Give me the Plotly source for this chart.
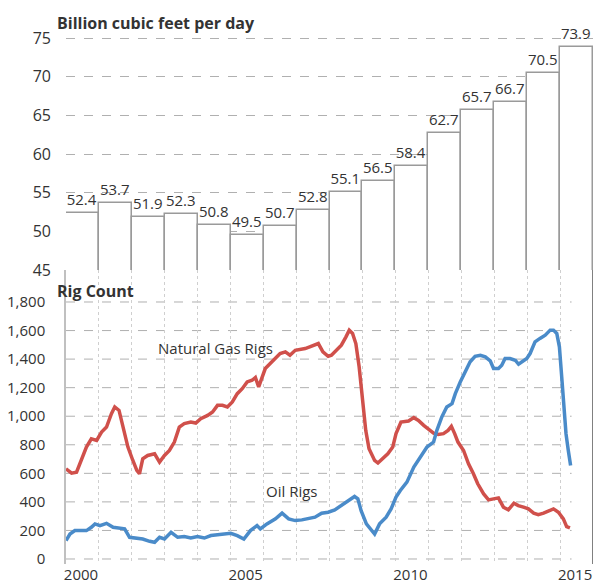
import plotly.graph_objects as go

# ---------------- data ----------------
years = list(range(2000, 2016))
gas_production = [52.4, 53.7, 51.9, 52.3, 50.8, 49.5, 50.7, 52.8, 55.1, 56.5,
                  58.4, 62.7, 65.7, 66.7, 70.5, 73.9]

gas_rig_t = [2000.0, 2000.17, 2000.32, 2000.47, 2000.62, 2000.77, 2000.93, 2001.08,
             2001.23, 2001.38, 2001.48, 2001.61, 2001.73, 2001.88, 2002.03, 2002.15,
             2002.23, 2002.33, 2002.48, 2002.69, 2002.84, 2002.99, 2003.14, 2003.29,
             2003.44, 2003.59, 2003.79, 2003.94, 2004.09, 2004.30, 2004.45, 2004.60,
             2004.75, 2004.90, 2005.05, 2005.2, 2005.35, 2005.5, 2005.65, 2005.75,
             2005.85, 2005.95, 2006.05, 2006.2, 2006.36, 2006.5, 2006.66, 2006.8,
             2006.96, 2007.1, 2007.26, 2007.4, 2007.56, 2007.66, 2007.8, 2007.96,
             2008.06, 2008.2, 2008.36, 2008.5, 2008.6, 2008.7, 2008.8, 2008.9,
             2009.0, 2009.1, 2009.2, 2009.37, 2009.47, 2009.62, 2009.77, 2009.92,
             2010.02, 2010.17, 2010.4, 2010.56, 2010.7, 2010.86, 2011.0, 2011.16,
             2011.3, 2011.46, 2011.6, 2011.7, 2011.8, 2011.9, 2012.07, 2012.22,
             2012.37, 2012.5, 2012.68, 2012.83, 2012.98, 2013.13, 2013.28, 2013.43,
             2013.6, 2013.73, 2013.89, 2014.04, 2014.2, 2014.34, 2014.5, 2014.65,
             2014.8, 2014.95, 2015.1, 2015.2, 2015.3]
gas_rigs = [632, 601, 608, 690, 784, 842, 831, 889,
            924, 1018, 1065, 1041, 924, 784, 690, 620,
            597, 702, 725, 737, 679, 725, 760, 819,
            924, 948, 959, 952, 983, 1006, 1030, 1076,
            1076, 1065, 1100, 1158, 1193, 1240, 1252, 1271,
            1205, 1275, 1334, 1369, 1404, 1439, 1451, 1427,
            1462, 1467, 1474, 1486, 1498, 1509, 1451, 1420,
            1427, 1462, 1498, 1556, 1603, 1580, 1509, 1346,
            1112, 901, 772, 690, 672, 702, 737, 784,
            878, 959, 966, 990, 971, 936, 913, 882,
            873, 878, 901, 929, 878, 819, 760, 667,
            597, 527, 456, 414, 421, 428, 363, 344,
            391, 374, 363, 351, 321, 311, 321, 335,
            351, 328, 281, 227, 218]

oil_rig_t = [2000.0, 2000.12, 2000.27, 2000.42, 2000.62, 2000.77, 2000.88, 2001.03,
             2001.23, 2001.43, 2001.63, 2001.78, 2001.93, 2002.13, 2002.33, 2002.54,
             2002.69, 2002.84, 2002.99, 2003.19, 2003.39, 2003.59, 2003.79, 2003.99,
             2004.2, 2004.4, 2004.6, 2004.8, 2005.0, 2005.2, 2005.4, 2005.6,
             2005.8, 2005.9, 2006.1, 2006.36, 2006.56, 2006.76, 2006.96, 2007.16,
             2007.36, 2007.56, 2007.76, 2007.96, 2008.16, 2008.36, 2008.56, 2008.76,
             2008.86, 2008.96, 2009.12, 2009.27, 2009.37, 2009.52, 2009.72, 2009.87,
             2010.02, 2010.15, 2010.35, 2010.56, 2010.76, 2010.96, 2011.16, 2011.26,
             2011.41, 2011.56, 2011.72, 2011.82, 2011.97, 2012.12, 2012.27, 2012.42,
             2012.58, 2012.73, 2012.88, 2012.98, 2013.13, 2013.23, 2013.33, 2013.48,
             2013.64, 2013.74, 2013.84, 2013.99, 2014.09, 2014.24, 2014.39, 2014.55,
             2014.7, 2014.8, 2014.9, 2014.98, 2015.05, 2015.12, 2015.18, 2015.25,
             2015.32]
oil_rigs = [129, 175, 199, 199, 199, 222, 246, 234,
            250, 222, 218, 211, 152, 147, 140, 124,
            117, 152, 140, 187, 152, 157, 147, 157,
            147, 164, 171, 175, 180, 164, 140, 199,
            234, 211, 246, 281, 321, 281, 269, 274,
            281, 293, 321, 328, 344, 374, 405, 438,
            421, 339, 246, 199, 175, 246, 293, 351,
            433, 480, 538, 644, 714, 784, 819, 901,
            995, 1065, 1088, 1158, 1240, 1310, 1381, 1420,
            1427, 1416, 1388, 1334, 1334, 1357, 1404, 1404,
            1392, 1364, 1381, 1404, 1439, 1521, 1545, 1568,
            1603, 1603, 1580, 1486, 1275, 1065, 878, 760,
            655]

prod_ticks = [45, 50, 55, 60, 65, 70, 75]
rig_ticks = [0, 200, 400, 600, 800, 1000, 1200, 1400, 1600, 1800]
year_ticks = [2000, 2005, 2010, 2015]

# ---------------- styles ----------------
FONT = "Open Sans"
TXT = "#333333"
GRID = "#b0b0b0"
RED = "#D0504B"
BLUE = "#4A8BC9"

fig = go.Figure()

# top: production bars
fig.add_trace(go.Bar(
    x=years, y=gas_production, width=1, offset=0,
    marker=dict(color="white", line=dict(color="#9a9a9a", width=1.5)),
    text=[f"{v:.1f}" for v in gas_production], textposition="outside",
    textfont=dict(size=15, color=TXT, family=FONT), cliponaxis=False,
    xaxis="x", yaxis="y", showlegend=False, hoverinfo="skip"))

# bottom: rig counts
fig.add_trace(go.Scatter(x=gas_rig_t, y=gas_rigs, mode="lines",
                         line=dict(color=RED, width=3.5), xaxis="x2", yaxis="y2",
                         showlegend=False))
fig.add_trace(go.Scatter(x=oil_rig_t, y=oil_rigs, mode="lines",
                         line=dict(color=BLUE, width=3.5), xaxis="x2", yaxis="y2",
                         showlegend=False))

split = 0.5424
fig.update_layout(
    width=601, height=584,
    margin=dict(l=66, r=8, t=22, b=20),
    paper_bgcolor="white", plot_bgcolor="white",
    font=dict(family=FONT, color=TXT, size=15),
    bargap=0,
    xaxis=dict(domain=[0, 1], range=[2000, 2016], anchor="y", automargin=False,
               showgrid=False, zeroline=False, showticklabels=False, ticks=""),
    yaxis=dict(domain=[split, 1], range=[45, 77.07], tickvals=prod_ticks,
               automargin=False,
               showgrid=True, gridcolor=GRID, griddash="dash", gridwidth=1,
               zeroline=False, ticks="", ticklabelstandoff=14,
               tickfont=dict(size=16, color=TXT)),
    xaxis2=dict(domain=[0, 1], range=[2000, 2016], anchor="y2", automargin=False,
                tickvals=year_ticks, ticktext=[str(y) for y in year_ticks],
                ticklabelshift=15, ticklabelstandoff=0,
                showgrid=False, zeroline=False, ticks="",
                tickfont=dict(size=15, color=TXT),
                minor=dict(tick0=2000, dtick=1, showgrid=True, gridcolor="#cfcfcf",
                           griddash="dot", gridwidth=1, ticks="")),
    yaxis2=dict(domain=[0, split], range=[-35, 2024], tickvals=rig_ticks,
                automargin=False,
                tickformat=",", showgrid=False, zeroline=False, ticks="",
                showline=True, linecolor="#c0c0c0", linewidth=1.5,
                ticklabelstandoff=16, tickfont=dict(size=15, color=TXT)),
)

# dashed horizontal gridlines of rig panel (end short of right edge)
for v in rig_ticks:
    fig.add_shape(type="line", xref="x2", yref="y2", x0=2000, x1=2015.35, y0=v, y1=v,
                  line=dict(color=GRID, width=1, dash="dash"), layer="below")

# right frame line under the bars
fig.add_shape(type="line", xref="x2", yref="paper", x0=2016, x1=2016, y0=0, y1=split,
              line=dict(color="#808080", width=2))

fig.add_annotation(text="<b>Billion cubic feet per day</b>", xref="paper", yref="paper",
                   x=-0.021, y=0.998, xanchor="left", yanchor="middle", showarrow=False,
                   font=dict(size=16, color=TXT, family=FONT))
fig.add_annotation(text="<b>Rig Count</b>", xref="paper", yref="paper",
                   x=-0.021, y=0.5037, xanchor="left", yanchor="middle", showarrow=False,
                   font=dict(size=16, color=TXT, family=FONT))
fig.add_annotation(text="Natural Gas Rigs", xref="x2", yref="y2", x=2004.55, y=1479,
                   showarrow=False, font=dict(size=15, color=TXT, family=FONT))
fig.add_annotation(text="Oil Rigs", xref="x2", yref="y2", x=2006.86, y=478,
                   showarrow=False, font=dict(size=15, color=TXT, family=FONT))

fig.write_html("out.html", config={"displayModeBar": False},
               post_script="document.body.style.margin='0';document.body.style.padding='0';")
